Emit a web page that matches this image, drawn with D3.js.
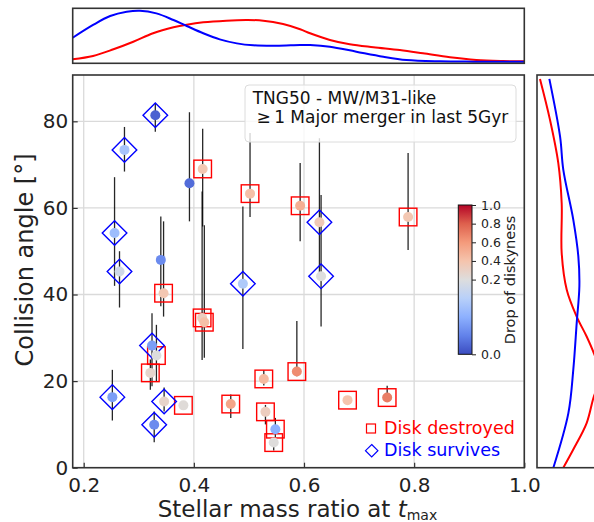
<!DOCTYPE html>
<html>
<head>
<title>Collision angle vs stellar mass ratio</title>
<script src="https://d3js.org/d3.v7.min.js"></script>
<style>
body { margin: 0; background: #fff; }
text { font-family: "DejaVu Sans", sans-serif; }
</style>
</head>
<body>
<div id="chart"></div>
<script>
// one entry per merger
var massRatio      = [0.330, 0.274, 0.392, 0.416, 0.502, 0.593, 0.628, 0.789, 0.256, 0.265, 0.340, 0.345, 0.489, 0.631, 0.415, 0.419,
                      0.324, 0.332, 0.321, 0.587, 0.527, 0.252, 0.346, 0.381, 0.467, 0.679, 0.751, 0.530, 0.328, 0.548, 0.545];
var collisionAngle = [81.4, 73.4, 65.7, 69.0, 63.3, 60.5, 56.7, 57.9, 54.2, 45.3, 48.0, 40.3, 42.5, 44.2, 34.6, 33.6,
                      28.2, 25.9, 21.9, 22.2, 20.5, 16.3, 15.3, 14.4, 14.7, 15.6, 16.2, 12.9, 9.9, 8.9, 5.8];
var angleLow       = [77.6, 68.4, 56.9, 55.7, 57.9, 52.3, 45.0, 50.3, 42.0, 37.0, 37.3, 34.9, 27.4, 32.6, 24.9, 25.4,
                      18.8, 20.0, 18.0, 21.1, 19.0, 10.9, 13.0, null, 11.5, null, 15.2, 10.0, 5.9, 7.0, 4.0];
var angleHigh      = [84.2, 78.7, 82.1, 78.3, 77.3, 70.4, 76.1, 72.7, 67.1, 50.0, 58.0, 56.9, 60.3, 63.0, 63.8, 56.0,
                      35.7, 33.0, 25.0, 33.9, 22.5, 22.6, 18.5, null, 16.9, null, 18.9, 14.5, 13.0, 11.5, 7.0];
var diskDrop       = [0.02, 0.13, 0.03, 0.38, 0.42, 0.50, 0.36, 0.38, 0.12, 0.18, 0.06, 0.38, 0.14, 0.20, 0.32, 0.42,
                      0.08, 0.20, 0.27, 0.65, 0.45, 0.08, 0.28, 0.22, 0.55, 0.40, 0.70, 0.33, 0.06, 0.10, 0.21];
var outcome        = ["survives", "survives", "none", "destroyed", "destroyed", "destroyed", "survives", "destroyed",
                      "survives", "survives", "none", "destroyed", "survives", "survives", "destroyed", "destroyed",
                      "survives", "destroyed", "destroyed", "destroyed", "destroyed", "survives", "survives", "destroyed",
                      "destroyed", "destroyed", "destroyed", "destroyed", "survives", "destroyed", "destroyed"];

var xTicks = [0.2, 0.4, 0.6, 0.8, 1.0];
var yTicks = [0, 20, 40, 60, 80];
var cbarTicks = [0.0, 0.2, 0.4, 0.6, 0.8, 1.0];

// marginal density curves, digitised: [mass ratio, density]
var topSurvives = [[0.18,1.62],[0.217,2.48],[0.248,3.08],[0.278,3.37],[0.302,3.44],[0.332,3.26],[0.363,2.81],[0.387,2.41],
                   [0.417,1.92],[0.447,1.51],[0.478,1.24],[0.508,1.11],[0.550,1.08],[0.593,1.13],[0.611,1.13],[0.647,1.02],
                   [0.695,0.68],[0.744,0.34],[0.786,0.12],[0.847,0.03],[0.907,0.01],[1.0,0.01]];
var topDestroyed = [[0.18,0.17],[0.217,0.39],[0.254,0.84],[0.290,1.35],[0.326,1.92],[0.363,2.32],[0.387,2.50],[0.417,2.66],
                    [0.459,2.77],[0.496,2.81],[0.526,2.77],[0.562,2.54],[0.593,2.19],[0.611,1.92],[0.647,1.47],[0.683,1.18],
                    [0.726,0.98],[0.774,0.79],[0.816,0.57],[0.865,0.30],[0.913,0.12],[0.961,0.05],[1.0,0.03]];
// [collision angle, density]
var sideSurvives = [[0,1.00],[12.6,2.01],[22.6,2.34],[33.4,2.57],[41.9,2.75],[48.8,2.68],[57.3,2.34],[68.8,1.67],
                    [76.5,1.45],[89.8,0.73]];
var sideDestroyed = [[0,1.67],[4.2,2.34],[10.3,3.24],[16.5,3.73],[21.0,4.25],[26.4,3.73],[30.3,3.24],[34.9,2.57],
                     [41.1,1.90],[49.6,1.56],[61.1,1.56],[70.4,1.33],[80.4,0.77],[89.8,0.10]];

// matplotlib coolwarm stops
var coolwarm = ["#3b4cc0", "#6282ea", "#8db0fe", "#b8d0f9", "#dddddd", "#f5c4ad", "#f49a7b", "#de604d", "#b40426"];

var svg = d3.select("#chart").append("svg")
	.attr("width", 594)
	.attr("height", 522);

var x = d3.scaleLinear().domain([0.18, 1.0]).range([72.7, 524.3]);
var y = d3.scaleLinear().domain([0, 90.7]).range([467.7, 75]);

// two-slope norm centred at 0.2, like the colorbar
var norm = d3.scaleLinear().domain([0, 0.2, 1]).range([0, 0.5, 1]).clamp(true);
var cmap = d3.scaleLinear().domain(d3.range(9).map(function(i){ return i / 8; })).range(coolwarm).interpolate(d3.interpolateRgb);
function colorOf(v){ return cmap(norm(v)); }

// grid
svg.append("g").selectAll("line").data(xTicks).enter().append("line")
	.attr("x1", function(d){ return x(d); }).attr("x2", function(d){ return x(d); })
	.attr("y1", y.range()[0]).attr("y2", y.range()[1])
	.attr("stroke", "#dadada").attr("stroke-width", 1.3);
svg.append("g").selectAll("line").data(yTicks).enter().append("line")
	.attr("x1", x.range()[0]).attr("x2", x.range()[1])
	.attr("y1", function(d){ return y(d); }).attr("y2", function(d){ return y(d); })
	.attr("stroke", "#dadada").attr("stroke-width", 1.3);

var idx = d3.range(massRatio.length);

// error bars
svg.append("g").selectAll("line").data(idx.filter(function(i){ return angleLow[i] != null; })).enter().append("line")
	.attr("x1", function(i){ return x(massRatio[i]); })
	.attr("x2", function(i){ return x(massRatio[i]); })
	.attr("y1", function(i){ return y(angleLow[i]); })
	.attr("y2", function(i){ return y(angleHigh[i]); })
	.attr("stroke", "#000").attr("stroke-width", 1.3).attr("stroke-opacity", 0.85);

// outcome markers
svg.append("g").selectAll("rect").data(idx.filter(function(i){ return outcome[i] == "destroyed"; })).enter().append("rect")
	.attr("x", function(i){ return x(massRatio[i]) - 8.8; })
	.attr("y", function(i){ return y(collisionAngle[i]) - 8.8; })
	.attr("width", 17.6).attr("height", 17.6)
	.attr("fill", "none").attr("stroke", "#ff0000").attr("stroke-width", 1.4);

function diamond(cx, cy, r){
	return "M" + cx + "," + (cy - r) + "L" + (cx + r) + "," + cy + "L" + cx + "," + (cy + r) + "L" + (cx - r) + "," + cy + "Z";
}
svg.append("g").selectAll("path").data(idx.filter(function(i){ return outcome[i] == "survives"; })).enter().append("path")
	.attr("d", function(i){ return diamond(x(massRatio[i]), y(collisionAngle[i]), 12.3); })
	.attr("fill", "none").attr("stroke", "#0000ff").attr("stroke-width", 1.4);

// coloured dots
svg.append("g").selectAll("circle").data(idx).enter().append("circle")
	.attr("cx", function(i){ return x(massRatio[i]); })
	.attr("cy", function(i){ return y(collisionAngle[i]); })
	.attr("r", 5)
	.attr("fill", function(i){ return colorOf(diskDrop[i]); });

// axes, ticks pointing in
var xAxis = svg.append("g").attr("transform", "translate(0," + y.range()[0] + ")")
	.call(d3.axisBottom(x).tickValues(xTicks).tickSize(-5).tickPadding(10).tickFormat(d3.format(".1f")));
var yAxis = svg.append("g").attr("transform", "translate(" + x.range()[0] + ",0)")
	.call(d3.axisLeft(y).tickValues(yTicks).tickSize(-5).tickPadding(4.5));
[xAxis, yAxis].forEach(function(g){
	g.select(".domain").remove();
	g.attr("font-size", 20).attr("font-family", "DejaVu Sans").attr("color", "#333");
	g.selectAll("text").attr("fill", "#222");
	g.selectAll("line").attr("stroke-width", 1.2);
});

svg.append("rect")
	.attr("x", x.range()[0]).attr("y", y.range()[1])
	.attr("width", x.range()[1] - x.range()[0]).attr("height", y.range()[0] - y.range()[1])
	.attr("fill", "none").attr("stroke", "#333").attr("stroke-width", 1.6);

// axis labels
var xl = svg.append("text").attr("x", 297.5).attr("y", 517).attr("text-anchor", "middle")
	.attr("font-size", 23).attr("fill", "#222");
xl.append("tspan").text("Stellar mass ratio at ");
xl.append("tspan").attr("font-style", "italic").text("t");
xl.append("tspan").attr("font-size", 14).attr("dy", 3).text("max");

svg.append("text")
	.attr("transform", "translate(33.3,260) rotate(-90)")
	.attr("text-anchor", "middle")
	.attr("font-size", 24).attr("fill", "#222")
	.text("Collision angle [°]");

// title box
svg.append("rect")
	.attr("x", 245).attr("y", 85).attr("width", 271).attr("height", 57).attr("rx", 4)
	.attr("fill", "#fff").attr("fill-opacity", 0.8).attr("stroke", "#dcdcdc").attr("stroke-width", 1);
svg.append("text").attr("x", 252.7).attr("y", 104).attr("font-size", 17).attr("fill", "#111")
	.text("TNG50 - MW/M31-like");
svg.append("text").attr("x", 256.5).attr("y", 123).attr("font-size", 17).attr("fill", "#111")
	.text("\u2265\u20091 Major merger in last 5Gyr");

// outcome legend
svg.append("rect").attr("x", 366.5).attr("y", 424).attr("width", 9).attr("height", 9)
	.attr("fill", "none").attr("stroke", "#ff0000").attr("stroke-width", 1.2);
svg.append("path").attr("d", diamond(371.7, 450.7, 6.2))
	.attr("fill", "none").attr("stroke", "#0000ff").attr("stroke-width", 1.2);
svg.append("text").attr("x", 384).attr("y", 433.5).attr("font-size", 17.5).attr("fill", "#ff0000").text("Disk destroyed");
svg.append("text").attr("x", 384).attr("y", 455.5).attr("font-size", 17.5).attr("fill", "#0000ff").text("Disk survives");

// colorbar
var cb = d3.scaleLinear().domain([0, 0.2, 1]).range([354.3, 279.6, 205]);
var grad = svg.append("defs").append("linearGradient").attr("id", "cw")
	.attr("x1", 0).attr("y1", 1).attr("x2", 0).attr("y2", 0);
coolwarm.forEach(function(c, i){
	grad.append("stop").attr("offset", i / 8).attr("stop-color", c);
});
svg.append("rect").attr("x", 458.3).attr("y", 205).attr("width", 13.7).attr("height", 149.3)
	.attr("fill", "url(#cw)").attr("stroke", "#111").attr("stroke-width", 1);
var cbAxis = svg.append("g").attr("transform", "translate(472,0)")
	.call(d3.axisRight(cb).tickValues(cbarTicks).tickSize(4).tickPadding(5).tickFormat(d3.format(".1f")));
cbAxis.select(".domain").remove();
cbAxis.attr("font-size", 12.5).attr("font-family", "DejaVu Sans").attr("color", "#222");
svg.append("text")
	.attr("transform", "translate(515,280) rotate(-90)")
	.attr("text-anchor", "middle")
	.attr("font-size", 14.5).attr("fill", "#222")
	.text("Drop of diskyness");

// top marginal panel
var topY = d3.scaleLinear().domain([0, 3.6]).range([61.8, 8.3]);
svg.append("clipPath").attr("id", "clipTop").append("rect")
	.attr("x", x.range()[0]).attr("y", 8.3).attr("width", x.range()[1] - x.range()[0]).attr("height", 55);
var topLine = d3.line()
	.x(function(d){ return x(d[0]); })
	.y(function(d){ return topY(d[1]); })
	.curve(d3.curveCatmullRom);
svg.append("path").attr("d", topLine(topDestroyed)).attr("clip-path", "url(#clipTop)")
	.attr("fill", "none").attr("stroke", "#ff0000").attr("stroke-width", 2);
svg.append("path").attr("d", topLine(topSurvives)).attr("clip-path", "url(#clipTop)")
	.attr("fill", "none").attr("stroke", "#0000ff").attr("stroke-width", 2);
svg.append("rect").attr("x", x.range()[0]).attr("y", 8.3)
	.attr("width", x.range()[1] - x.range()[0]).attr("height", 55)
	.attr("fill", "none").attr("stroke", "#333").attr("stroke-width", 1.6);

// right marginal panel
var sideX = d3.scaleLinear().domain([0, 3.6]).range([538.5, 592]);
svg.append("clipPath").attr("id", "clipSide").append("rect")
	.attr("x", 537).attr("y", y.range()[1]).attr("width", 120).attr("height", y.range()[0] - y.range()[1]);
var sideLine = d3.line()
	.x(function(d){ return sideX(d[1]); })
	.y(function(d){ return y(d[0]); })
	.curve(d3.curveCatmullRom);
svg.append("path").attr("d", sideLine(sideDestroyed)).attr("clip-path", "url(#clipSide)")
	.attr("fill", "none").attr("stroke", "#ff0000").attr("stroke-width", 2);
svg.append("path").attr("d", sideLine(sideSurvives)).attr("clip-path", "url(#clipSide)")
	.attr("fill", "none").attr("stroke", "#0000ff").attr("stroke-width", 2);
svg.append("rect").attr("x", 537).attr("y", y.range()[1])
	.attr("width", 120).attr("height", y.range()[0] - y.range()[1])
	.attr("fill", "none").attr("stroke", "#333").attr("stroke-width", 1.6);
</script>
</body>
</html>
